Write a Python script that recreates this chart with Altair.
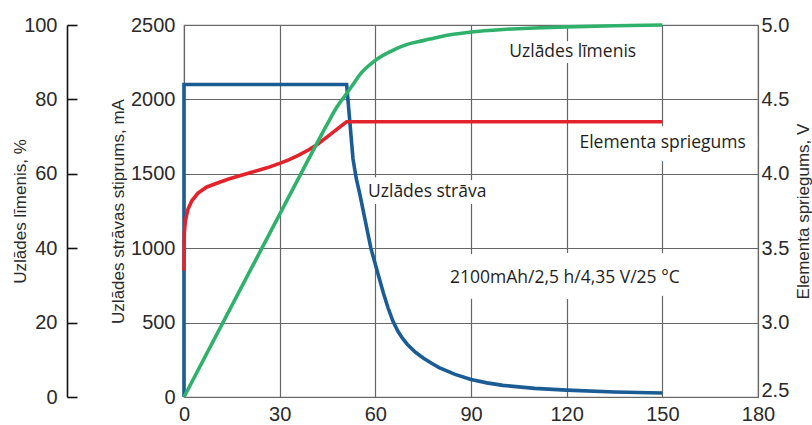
import altair as alt
import pandas as pd

# ---------------- data ----------------
t_current = [0, 0, 51, 52, 53, 54, 55.2, 56.5, 58.6, 60.5, 62.5, 64, 65.5, 67, 68.5, 70, 72.5, 75, 77.5, 80,
             85, 90, 95, 100, 110, 120, 135, 150]
current_ma = [0, 2100, 2100, 1850, 1600, 1470, 1357, 1220, 1000, 853, 700, 598, 510, 445, 395, 355, 302, 262, 228, 198,
              152, 118, 95, 78, 58, 46, 34, 27]

t_voltage = [0, 0.1, 0.4, 1.2, 2.5, 4.4, 7, 10.7, 14, 18, 22, 26, 30, 33, 36, 39, 42, 45, 48, 51, 150]
voltage_v = [3.35, 3.6, 3.68, 3.76, 3.82, 3.87, 3.91, 3.94, 3.965, 3.99, 4.015, 4.04, 4.07, 4.095, 4.125, 4.16,
             4.2, 4.25, 4.3, 4.35, 4.35]

t_level = [0, 40, 45, 48, 50.5, 53, 55, 60, 65, 70, 75, 80, 90, 100, 110, 120, 135, 150]
level_pct = [0, 65.5, 73.5, 78, 81, 84, 86.5, 90.5, 93, 94.8, 95.8, 96.8, 98.1, 98.8, 99.2, 99.5, 99.8, 100]

x_ticks = [0, 30, 60, 90, 120, 150, 180]
ma_ticks = [0, 500, 1000, 1500, 2000, 2500]
v_ticks = [2.5, 3.0, 3.5, 4.0, 4.5, 5.0]
pct_ticks = [0, 20, 40, 60, 80, 100]

labels = ["Uzlādes līmenis", "Elementa spriegums", "Uzlādes strāva", "2100mAh/2,5 h/4,35 V/25 °C"]
label_t = [102, 124, 57.7, 83.4]
label_ma = [2319, 1707, 1378, 800]

# ---------------- style ----------------
W, H = 574, 372
BLUE = "#1a5c93"
RED = "#e3232c"
GREEN = "#2fb16c"
GRID = "#666666"
TXT = "#2a2a2a"
AXF = "Liberation Sans"
ANF = "Open Sans"
LFS = 20
TFS = 17

cur_df = pd.DataFrame({"t": t_current, "v": current_ma, "i": range(len(t_current))})
volt_df = pd.DataFrame({"t": t_voltage, "v": voltage_v, "i": range(len(t_voltage))})
lvl_df = pd.DataFrame({"t": t_level, "v": level_pct, "i": range(len(t_level))})
lab_df = pd.DataFrame({"label": labels, "t": label_t, "ma": label_ma})

x_axis = alt.Axis(values=x_ticks, grid=True, gridColor=GRID, gridWidth=1.2, ticks=False,
                  domain=False, labelPadding=7, labelFontSize=LFS, labelFont=AXF,
                  labelColor=TXT, labelFlush=False, labelOverlap=False, title=None, format="d")
x_scale = alt.Scale(domain=[0, 180], nice=False, zero=False)


def xenc():
    return alt.X("t:Q", scale=x_scale, axis=x_axis)


ma_scale = alt.Scale(domain=[0, 2500], nice=False, zero=False)

cur_line = alt.Chart(cur_df).mark_line(color=BLUE, strokeWidth=3.6).encode(
    x=xenc(),
    y=alt.Y("v:Q", scale=ma_scale,
            axis=alt.Axis(orient="left", values=ma_ticks, grid=True, gridColor=GRID, gridWidth=1.2,
                          ticks=False, tickSize=0, domain=False, labelPadding=9, format="d",
                          labelFontSize=LFS, labelFont=AXF, labelColor=TXT, labelOverlap=False,
                          labelFlush=False,
                          title="Uzlādes strāvas stiprums, mA", titleFont=AXF, titleFontSize=TFS,
                          titleFontWeight="normal", titleColor=TXT, titleAngle=270,
                          titleX=-66, titleY=H / 2, titleAlign="center", titleBaseline="middle")),
    order="i:Q",
)

volt_line = alt.Chart(volt_df).mark_line(color=RED, strokeWidth=3.6).encode(
    x=xenc(),
    y=alt.Y("v:Q", scale=alt.Scale(domain=[2.5, 5.0], nice=False, zero=False),
            axis=alt.Axis(orient="right", values=v_ticks, grid=False, ticks=False, tickSize=0,
                          domain=False, labelPadding=3, format=".1f",
                          labelFontSize=LFS, labelFont=AXF, labelColor=TXT, labelOverlap=False,
                          labelFlush=False,
                          labelOffset={"condition": {"test": "datum.value <= 2.5", "value": -7}, "value": 0},
                          title="Elementa spriegums, V", titleFont=AXF, titleFontSize=TFS,
                          titleFontWeight="normal", titleColor=TXT, titleAngle=270,
                          titleX=45, titleY=H / 2, titleAlign="center", titleBaseline="middle")),
    order="i:Q",
)

lvl_line = alt.Chart(lvl_df).mark_line(color=GREEN, strokeWidth=3.6, interpolate="monotone").encode(
    x=xenc(),
    y=alt.Y("v:Q", scale=alt.Scale(domain=[0, 100], nice=False, zero=False),
            axis=alt.Axis(orient="right", offset=-(W + 117), values=pct_ticks, grid=False,
                          ticks=True, tickSize=10, tickColor="#111111", tickWidth=1.6,
                          domain=True, domainColor="#111111", domainWidth=1.6,
                          labelPadding=-20, labelAlign="right",
                          labelFontSize=LFS, labelFont=AXF, labelColor=TXT, labelOverlap=False,
                          labelFlush=False,
                          title="Uzlādes līmenis, %", titleFont=AXF, titleFontSize=TFS,
                          titleFontWeight="normal", titleColor=TXT, titleAngle=270,
                          titleX=-47, titleY=H / 2, titleAlign="center", titleBaseline="middle")),
    order="i:Q",
)

lab_y = alt.Y("ma:Q", scale=ma_scale, axis=None)


def halo(sel, width):
    return alt.Chart(lab_df).transform_filter(sel).mark_text(
        font=ANF, fontSize=17.5, align="left", baseline="middle", color="white",
        stroke="white", strokeWidth=width, strokeJoin="round").encode(
        x=xenc(), y=lab_y, text="label:N")


halo_a = halo(alt.FieldOneOfPredicate(field="label", oneOf=[labels[0]]), 12)
halo_b = halo(alt.FieldOneOfPredicate(field="label", oneOf=[labels[1]]), 24)
halo_c = halo(alt.FieldOneOfPredicate(field="label", oneOf=[labels[2]]), 14)
halo_d = halo(alt.FieldOneOfPredicate(field="label", oneOf=[labels[3]]), 32)

texts = alt.Chart(lab_df).mark_text(
    font=ANF, fontSize=17.5, align="left", baseline="middle", color="#1e1e1e").encode(
    x=xenc(), y=lab_y, text="label:N")

chart = alt.layer(halo_a, halo_b, halo_c, halo_d, cur_line, volt_line, lvl_line, texts).resolve_scale(
    y="independent"
).properties(
    width=W, height=H,
    padding={"left": 184, "top": 25, "right": 54, "bottom": 28},
    autosize=alt.AutoSizeParams(type="none"),
    background="white",
).configure_view(stroke="#777777", strokeWidth=1.2)

chart.save("out.html", embed_options={"renderer": "svg", "actions": False})
